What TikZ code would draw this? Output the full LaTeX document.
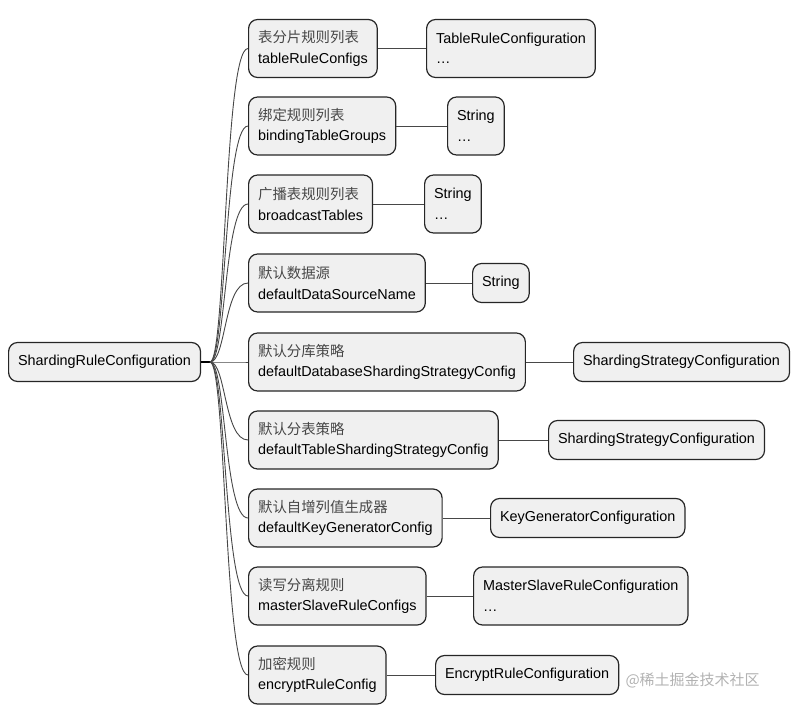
\documentclass[tikz,border=0pt]{standalone}
\usepackage{fontspec}
\setmainfont{Liberation Sans}
\newfontfamily\cjk{Noto Sans CJK SC}
\newcommand{\zh}[1]{{\cjk\color{black!72}#1}}

\begin{document}
\begin{tikzpicture}[x=1pt, y=-1pt,
    box/.style={draw=black!85, line width=1.2pt, fill=black!6, rounded corners=9pt,
        align=left, inner xsep=9.5pt, inner ysep=4pt, anchor=west,
        font=\fontsize{14.4}{20.5}\selectfont},
    twoline/.style={minimum height=58pt},
    oneline/.style={minimum height=39pt},
    link/.style={draw=black!72, line width=0.9pt}]
    \useasboundingbox (0,0) rectangle (794,710);

    % Root
    \node[box, oneline] (root) at (8,362) {ShardingRuleConfiguration};
    \coordinate (hub) at (210,362);
    \draw[line width=2pt] (root.east) -- (hub);

    % Fields
    \node[box, twoline] (m1) at (248,48.5) {\zh{表分片规则列表}\\tableRuleConfigs};
    \node[box, twoline] (m2) at (248,126) {\zh{绑定规则列表}\\bindingTableGroups};
    \node[box, twoline] (m3) at (248,204) {\zh{广播表规则列表}\\broadcastTables};
    \node[box, twoline] (m4) at (248,283) {\zh{默认数据源}\\defaultDataSourceName};
    \node[box, twoline] (m5) at (248,362) {\zh{默认分库策略}\\defaultDatabaseShardingStrategyConfig};
    \node[box, twoline] (m6) at (248,440) {\zh{默认分表策略}\\defaultTableShardingStrategyConfig};
    \node[box, twoline] (m7) at (248,518) {\zh{默认自增列值生成器}\\defaultKeyGeneratorConfig};
    \node[box, twoline] (m8) at (248,596) {\zh{读写分离规则}\\masterSlaveRuleConfigs};
    \node[box, twoline] (m9) at (248,675) {\zh{加密规则}\\encryptRuleConfig};

    % Types
    \node[box, twoline] (t1) at (426,48.5) {TableRuleConfiguration\\…};
    \node[box, twoline] (t2) at (447,126) {String\\…};
    \node[box, twoline] (t3) at (424,204) {String\\…};
    \node[box, oneline] (t4) at (472,283) {String};
    \node[box, oneline] (t5) at (573,362) {ShardingStrategyConfiguration};
    \node[box, oneline] (t6) at (548,440) {ShardingStrategyConfiguration};
    \node[box, oneline] (t7) at (490,518) {KeyGeneratorConfiguration};
    \node[box, twoline] (t8) at (473,596) {MasterSlaveRuleConfiguration\\…};
    \node[box, oneline] (t9) at (435,675) {EncryptRuleConfiguration};

    % Branches
    \foreach \n in {1,...,9} {
        \draw[link] (hub) .. controls +(16,0) and +(-24,0) .. (m\n.west);
        \draw[link] (m\n.east) -- (t\n.west);
    }

    % Watermark
    \node[anchor=west, text=black!30, font=\cjk\fontsize{15}{18}\selectfont] (mark) at (622,680) {@稀土掘金技术社区};
\end{tikzpicture}
\end{document}
